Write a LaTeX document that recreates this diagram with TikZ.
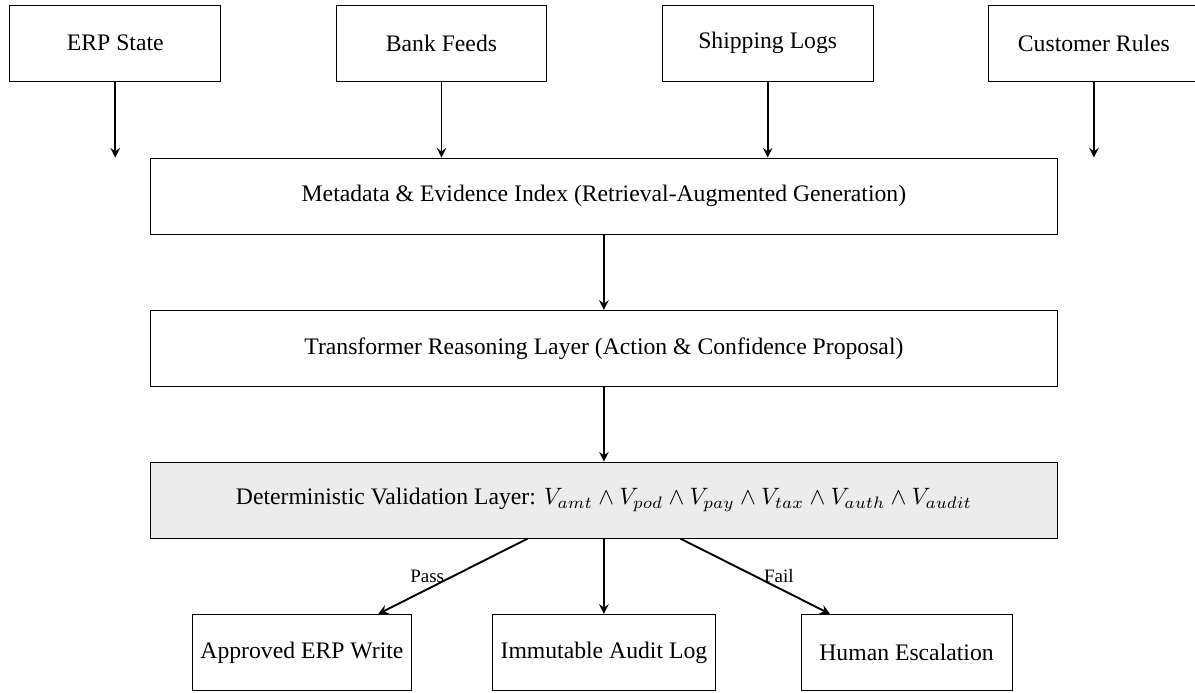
\documentclass[tikz,border=0pt]{standalone}
\usepackage{fontspec}
\setmainfont{Liberation Serif}

\begin{document}
\begin{tikzpicture}[
  box/.style={draw, minimum width=3.13cm, minimum height=1.13cm},
  wide/.style={draw, minimum width=13.46cm, minimum height=1.13cm},
  arr/.style={-stealth, thick}
]
  \useasboundingbox (0,0) rectangle (17.73,10.27);
  % sources
  \node[box] (erp) at (1.71,9.63) {ERP State};
  \node[box] (bank) at (6.55,9.63) {Bank Feeds};
  \node[box] (ship) at (11.39,9.63) {Shipping Logs};
  \node[box] (rules) at (16.23,9.63) {Customer Rules};
  % layers
  \node[wide] (meta) at (8.96,7.36) {Metadata \& Evidence Index (Retrieval-Augmented Generation)};
  \node[wide] (reason) at (8.96,5.10) {Transformer Reasoning Layer (Action \& Confidence Proposal)};
  \node[wide, fill=gray!15] (valid) at (8.96,2.85) {Deterministic Validation Layer: $V_{amt} \land V_{pod} \land V_{pay} \land V_{tax} \land V_{auth} \land V_{audit}$};
  % outcomes
  \node[box] (approve) at (4.48,0.59) {Approved ERP Write};
  \node[box] (audit) at (8.96,0.59) {Immutable Audit Log};
  \node[box] (human) at (13.45,0.59) {Human Escalation};
  \draw[arr] (erp) -- (erp |- meta.north);
  \draw[arr] (bank) -- (bank |- meta.north);
  \draw[arr] (ship) -- (ship |- meta.north);
  \draw[arr] (rules) -- (rules |- meta.north);
  \draw[arr] (meta) -- (reason);
  \draw[arr] (reason) -- (valid);
  \draw[arr] (valid) -- node[midway, left, font=\footnotesize] {Pass} (approve);
  \draw[arr] (valid) -- (audit);
  \draw[arr] (valid) -- node[midway, right, font=\footnotesize] {Fail} (human);
\end{tikzpicture}
\end{document}
